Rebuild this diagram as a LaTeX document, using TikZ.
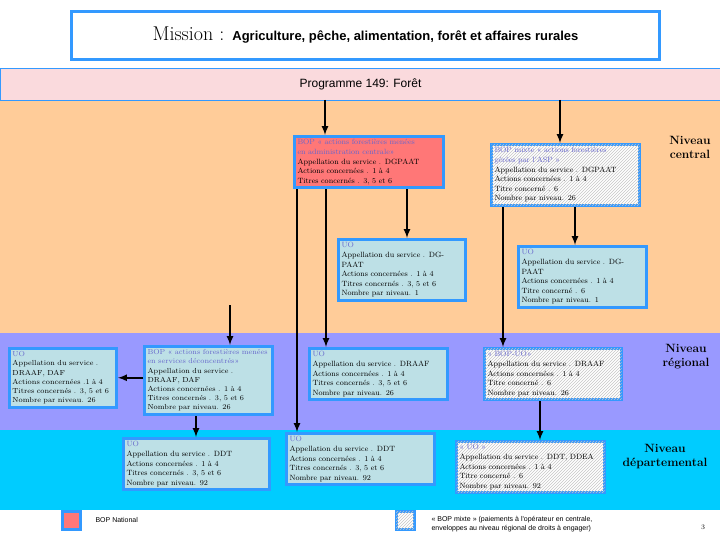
\documentclass[tikz,border=0pt]{standalone}
\usepackage{fontspec}
\newfontfamily\sansfont{Liberation Sans}
\usetikzlibrary{patterns}
\definecolor{bandorange}{HTML}{FFCC99}
\definecolor{bandpurple}{HTML}{9999FF}
\definecolor{bandcyan}{HTML}{00CCFF}
\definecolor{boxblue}{HTML}{3399FF}
\definecolor{boxfill}{HTML}{BDE0E6}
\definecolor{bopred}{HTML}{FF7777}
\definecolor{progpink}{HTML}{FADADD}
\definecolor{headblue}{HTML}{6666CC}
\tikzset{
  box/.style={draw=boxblue, line width=3pt, fill=boxfill, anchor=north west, align=left,
    font=\fontsize{7.6}{9.6}\selectfont, inner sep=3pt},
  natbox/.style={box, fill=bopred},
  mixbox/.style={box, fill=white, postaction={pattern=north east lines, pattern color=gray!45}},
  arr/.style={line width=2pt, -latex},
  level/.style={font=\bfseries\fontsize{12}{14}\selectfont, align=center}
}
\newcommand{\hd}[1]{\textcolor{headblue}{#1}}
\begin{document}
\begin{tikzpicture}[x=1pt, y=-1pt]
    \useasboundingbox (0,0) rectangle (720,540);
    % bands
    \fill[bandorange] (0,100) rectangle (720,333);
    \fill[bandpurple] (0,333) rectangle (720,430);
    \fill[bandcyan] (0,430) rectangle (720,510);
    % title and programme
    \node[draw=boxblue, line width=3pt, fill=white, anchor=north west, minimum width=588pt, minimum height=48pt] (mission) at (70,10)
        {\fontsize{20}{22}\selectfont Mission : \sansfont\bfseries\fontsize{13}{15}\selectfont Agriculture, pêche, alimentation, forêt et affaires rurales};
    \node[draw=boxblue, line width=1pt, fill=progpink, anchor=north west, minimum width=720pt, minimum height=32pt] (prog) at (0,68)
        {\sansfont\fontsize{12}{14}\selectfont Programme 149: Forêt};
    % central level
    \node[natbox, text width=143pt] (bopnat) at (293,135)
        {\hd{BOP « actions forestières menées}\\\hd{en administration centrale»}\\Appellation du service . DGPAAT\\Actions concernées . 1 à 4\\Titres concernés . 3, 5 et 6};
    \node[mixbox, text width=142pt] (bopmix) at (490,143)
        {\hd{BOP mixte « actions forestières}\\\hd{gérées par l'ASP »}\\Appellation du service . DGPAAT\\Actions concernées . 1 à 4\\Titre concerné . 6\\Nombre par niveau. 26};
    \node[box, text width=121pt] (uocen) at (337,238)
        {\hd{UO}\\Appellation du service . DGPAAT\\Actions concernées . 1 à 4\\Titres concernés . 3, 5 et 6\\Nombre par niveau. 1};
    \node[box, text width=122pt, minimum height=57pt] (uomix) at (517,245)
        {\hd{UO}\\Appellation du service . DGPAAT\\Actions concernées . 1 à 4\\Titre concerné . 6\\Nombre par niveau. 1};
    % regional level
    \node[box, text width=101pt, font=\fontsize{7.3}{9.2}\selectfont] (uodaf) at (8,347)
        {\hd{UO}\\Appellation du service .\\DRAAF, DAF\\Actions concernées .1 à 4\\Titres concernés . 3, 5 et 6\\Nombre par niveau. 26};
    \node[box, text width=122pt, font=\fontsize{7.3}{9.2}\selectfont] (bopreg) at (143,345)
        {\hd{BOP « actions forestières menées}\\\hd{en services déconcentrés»}\\Appellation du service .\\DRAAF, DAF\\Actions concernées . 1 à 4\\Titres concernés . 3, 5 et 6\\Nombre par niveau. 26};
    \node[box, text width=132pt] (uoreg) at (308,347)
        {\hd{UO}\\Appellation du service . DRAAF\\Actions concernées . 1 à 4\\Titres concernés . 3, 5 et 6\\Nombre par niveau. 26};
    \node[mixbox, text width=131pt] (bopuo) at (483,347)
        {\hd{« BOP-UO»}\\Appellation du service . DRAAF\\Actions concernées . 1 à 4\\Titre concerné . 6\\Nombre par niveau. 26};
    % departmental level
    \node[box, text width=140pt] (uoddt) at (122,437)
        {\hd{UO}\\Appellation du service . DDT\\Actions concernées . 1 à 4\\Titres concernés . 3, 5 et 6\\Nombre par niveau. 92};
    \node[box, text width=142pt] (uoddtb) at (285,432)
        {\hd{UO}\\Appellation du service . DDT\\Actions concernées . 1 à 4\\Titres concernés . 3, 5 et 6\\Nombre par niveau. 92};
    \node[mixbox, text width=142pt] (uodea) at (455,440)
        {\hd{« UO »}\\Appellation du service . DDT, DDEA\\Actions concernées . 1 à 4\\Titre concerné . 6\\Nombre par niveau. 92};
    % level labels
    \node[level] (lvcen) at (690,147) {Niveau\\central};
    \node[level] (lvreg) at (686,357) {Niveau\\régional};
    \node[level] (lvdep) at (665,457) {Niveau\\départemental};
    % legend
    \node[draw=boxblue, line width=3pt, fill=bopred, minimum size=18pt] (legnat) at (71,520) {};
    \node[font=\sansfont\fontsize{7}{8}\selectfont, anchor=west] (legnattxt) at (92,520) {BOP National};
    \node[draw=boxblue, line width=3pt, fill=white, postaction={pattern=north east lines, pattern color=gray!45}, minimum size=18pt] (legmix) at (405,520) {};
    \node[font=\sansfont\fontsize{7}{8.5}\selectfont, anchor=west, align=left] (legmixtxt) at (428,524)
        {« BOP mixte » (paiements à l'opérateur en centrale,\\enveloppes au niveau régional de droits à engager)};
    \node[font=\fontsize{7}{8}\selectfont] (pagenum) at (703,527) {3};
    % connectors
    \coordinate (p1) at (325,100);
    \coordinate (p2) at (560,100);
    \draw[arr] (p1) -- (p1 |- bopnat.north);
    \draw[arr] (p2) -- (p2 |- bopmix.north);
    \coordinate (c1) at (407,0);
    \coordinate (c2) at (575,0);
    \draw[arr] (c1 |- bopnat.south) -- (c1 |- uocen.north);
    \draw[arr] (c2 |- bopmix.south) -- (c2 |- uomix.north);
    \coordinate (c3) at (297,0);
    \coordinate (c4) at (326,0);
    \draw[arr] (c3 |- bopnat.south) -- (c3 |- uoddtb.north);
    \draw[arr] (c4 |- bopnat.south) -- (c4 |- uoreg.north);
    \coordinate (c5) at (230,305);
    \draw[arr] (c5) -- (c5 |- bopreg.north);
    \coordinate (c6) at (503,0);
    \coordinate (c7) at (540,0);
    \draw[arr] (c6 |- bopmix.south) -- (c6 |- bopuo.north);
    \draw[arr] (c7 |- bopuo.south) -- (c7 |- uodea.north);
    \draw[arr] (bopreg.west |- uodaf.east) -- (uodaf.east);
    \coordinate (c8) at (196,0);
    \draw[arr] (c8 |- bopreg.south) -- (c8 |- uoddt.north);
\end{tikzpicture}
\end{document}
